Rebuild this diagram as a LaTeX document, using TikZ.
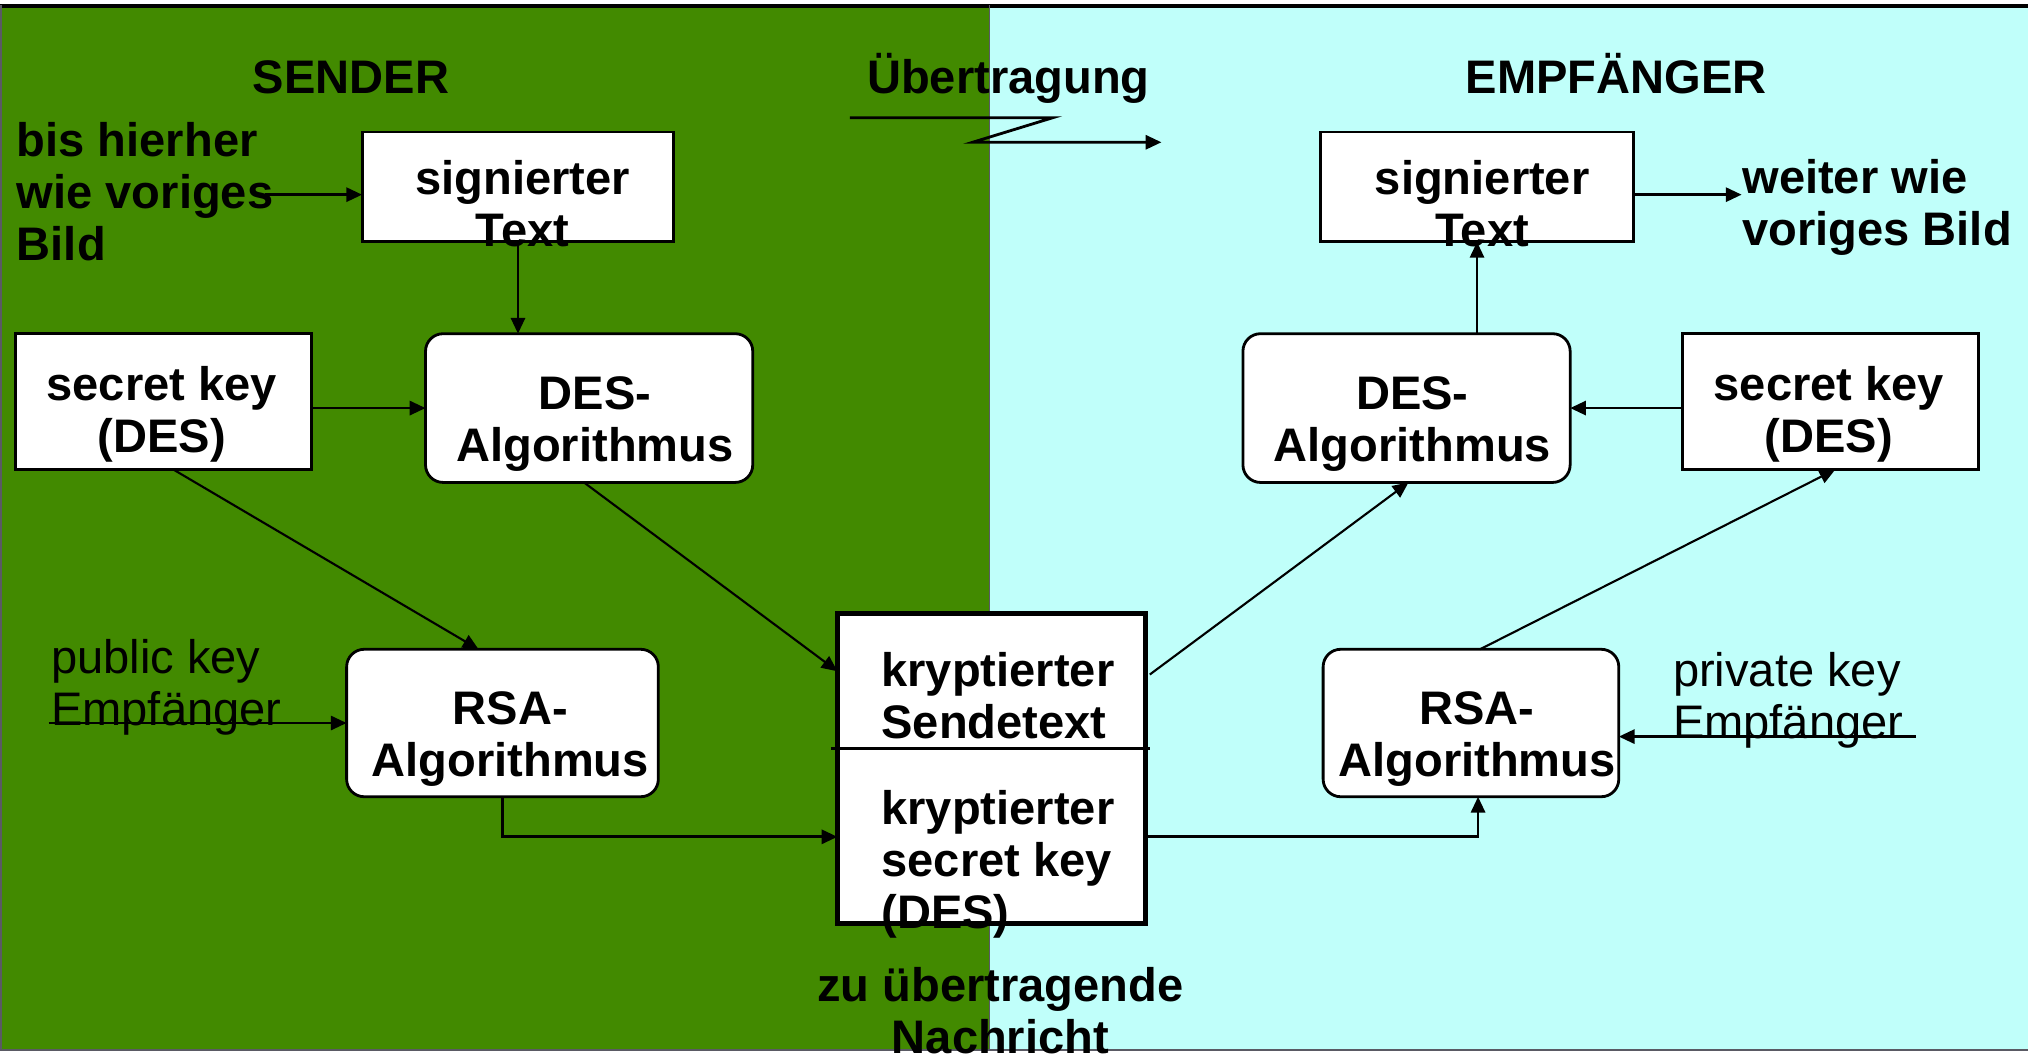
\documentclass[tikz,border=0pt]{standalone}
\usepackage{fontspec}
\setmainfont{Liberation Sans}
\usetikzlibrary{arrows.meta,calc}
\newlength\pu
\setlength\pu{0.012934cm}
\newcommand\fsz{\fontsize{13.4pt}{14.8pt}\selectfont}
\newcommand\mlc[1]{\vtop{\halign{\hfil##\hfil\cr#1\crcr}}}
\newcommand\mll[1]{\vtop{\halign{##\hfil\cr#1\crcr}}}
\definecolor{sendgreen}{RGB}{66,138,0}
\definecolor{recvcyan}{RGB}{192,255,250}
\definecolor{framegray}{RGB}{90,90,100}
\begin{document}
\begin{tikzpicture}[x=0.012934cm,y=-0.012934cm,
  box/.style={draw=black, fill=white, line width=0.8pt, inner sep=0pt, outer sep=0pt},
  rbox/.style={box, rounded corners=5pt},
  txt/.style={inner sep=0pt, font=\fsz\bfseries, anchor=base},
  txtl/.style={inner sep=0pt, font=\fsz\bfseries, anchor=base west},
  txtr/.style={inner sep=0pt, font=\fsz, anchor=base west},
  conn/.style={line width=0.8pt, -{Triangle[length=4.5pt,width=4pt]}},
  diag/.style={conn, line width=0.6pt},
]
\useasboundingbox (0,0) rectangle (1568,816);
% backgrounds
\fill[sendgreen] (0,4) rectangle (765,812);
\fill[recvcyan] (765,4) rectangle (1568,812);
\draw[line width=1.1pt] (0,4.5) -- (1568,4.5);
\draw[framegray, line width=0.6pt] (0.5,4) -- (0.5,812) -- (1568,812);
\draw[framegray, line width=0.5pt] (765,4) -- (765,812);

% boxes
\node[box, minimum width=241\pu, minimum height=85\pu] (sigL) at (400.5,144.5) {};
\node[box, minimum width=229\pu, minimum height=105\pu] (skL) at (126.5,310.5) {};
\node[rbox, minimum width=253\pu, minimum height=115\pu] (desL) at (455.5,315.5) {};
\node[rbox, minimum width=241\pu, minimum height=114\pu] (rsaL) at (388.5,559) {};
\node[box, line width=1.5pt, minimum width=238\pu, minimum height=239.5\pu] (big) at (766.5,594.25) {};
\node[box, minimum width=242\pu, minimum height=85\pu] (sigR) at (1142,144.5) {};
\node[rbox, minimum width=253\pu, minimum height=115\pu] (desR) at (1087.5,315.5) {};
\node[box, minimum width=229\pu, minimum height=105\pu] (skR) at (1415.5,310.5) {};
\node[rbox, minimum width=228.6\pu, minimum height=114\pu] (rsaR) at (1137.3,559) {};
\draw[line width=0.8pt] ([xshift=-5\pu,yshift=15.25\pu]big.west) -- ([xshift=3.5\pu,yshift=15.25\pu]big.east);

% texts
\node[txt] (sender) at (271.4,72) {SENDER};
\node[txt] (uebert) at (779.6,72.2) {Übertragung};
\node[txt] (empf) at (1249.6,72.4) {EMPFÄNGER};
\node[txtl] (bis) at (12.5,121) {\mll{bis hierher\cr wie voriges\cr Bild}};
\node[txtl] (weiter) at (1346.6,149.7) {\mll{weiter wie\cr voriges Bild}};
\node[txtr] (pub) at (39,520.7) {\mll{public key\cr Empfänger}};
\node[txtr] (priv) at (1293,530.6) {\mll{private key\cr Empfänger}};
\node[txt] (sigLt) at (404,150) {\mlc{signierter\cr Text}};
\node[txt] (sigRt) at (1146,150) {\mlc{signierter\cr Text}};
\node[txt] (skLt) at (125,310) {\mlc{secret key\cr (DES)}};
\node[txt] (skRt) at (1414,310) {\mlc{secret key\cr (DES)}};
\node[txt] (desLt) at (460,316.5) {\mlc{DES-\cr Algorithmus}};
\node[txt] (desRt) at (1092,316.5) {\mlc{DES-\cr Algorithmus}};
\node[txt] (rsaLt) at (394.5,560.5) {\mlc{RSA-\cr Algorithmus}};
\node[txt] (rsaRt) at (1142,560.5) {\mlc{RSA-\cr Algorithmus}};
\node[txtl] (bigt1) at (681,530.5) {\mll{kryptierter\cr Sendetext}};
\node[txtl] (bigt2) at (681,637.5) {\mll{kryptierter\cr secret key\cr (DES)}};
\node[txt] (cap) at (773.5,774) {\mlc{zu übertragende\cr Nachricht}};

% connectors
\coordinate (bisA) at (205,150.5);
\draw[conn] (bisA) -- (bisA -| sigL.west);
\draw[conn] (sigL.south) -- (sigL.south |- desL.north);
\draw[conn] (desL.west -| skL.east) -- (desL.west);
\draw[diag] ([xshift=7.5\pu]skL.south) -- ([xshift=-18.5\pu]rsaL.north);
\draw[diag] ([xshift=-4\pu]desL.south) -- ([yshift=75.25\pu]big.west);
\coordinate (pubA) at (37.5,559);
\draw[conn] (pubA) -- (rsaL.west);
\draw[conn] (rsaL.south) |- ([yshift=-52.75\pu]big.west);
\draw[conn] ([yshift=-52.75\pu]big.east) -| ([xshift=5.5\pu]rsaR.south);
\draw[diag] ([xshift=3.5\pu,yshift=72.75\pu]big.east) -- ([xshift=1.5\pu]desR.south);
\draw[diag] ([xshift=7\pu]rsaR.north) -- ([xshift=3.5\pu]skR.south);
\draw[conn] (desR.east -| skR.west) -- (desR.east);
\draw[conn] (sigR.south |- desR.north) -- (sigR.south);
\coordinate (weiterA) at (1346.6,150.5);
\draw[conn] (weiterA -| sigR.east) -- (weiterA);
\coordinate (privA) at (1481.5,569.5);
\draw[conn] (privA) -- (privA -| rsaR.east);
\coordinate (ub1) at (657,91);
\coordinate (ub2) at (814,91);
\coordinate (ub3) at (752,110);
\coordinate (ub4) at (898,110);
\draw[conn] (ub1) -- (ub2) -- (ub3) -- (ub4);
\end{tikzpicture}
\end{document}
